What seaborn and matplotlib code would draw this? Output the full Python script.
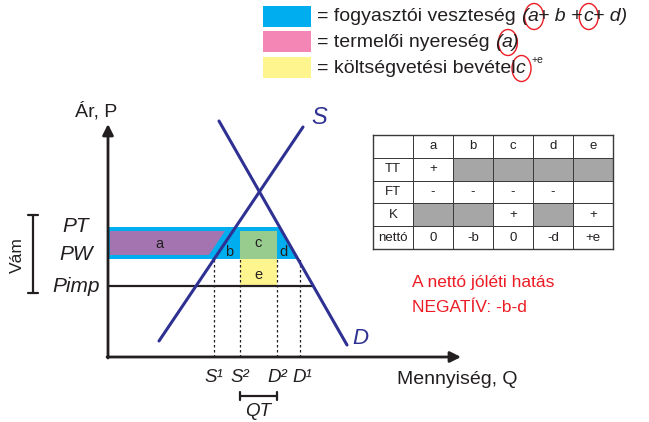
import numpy as np
import matplotlib
matplotlib.use('Agg')
import matplotlib.pyplot as plt
import seaborn as sns
from matplotlib.colors import ListedColormap
from matplotlib.patches import Ellipse

sns.set_style('white')
plt.rcParams['font.family'] = ['Liberation Sans', 'DejaVu Sans']

# --- data (units: quantity Q, price P) ---
supply_q = [5.1, 19.5]
supply_p = [1.6, 23.0]
demand_q = [11.1, 23.9]
demand_p = [23.6, 1.2]

PT = 13.0       # price with tariff (top of blue band)
PT_in = 12.6    # inner top of the coloured areas
PW = 9.8        # world price
Pimp = 7.1      # import price

S1, S2, D2, D1 = 10.6, 13.2, 16.9, 19.2

producer_q = [0.2, 10.1, 11.7, 0.2]
producer_p = [10.2, 10.2, 12.6, 12.6]

area_labels = ['a', 'b', 'c', 'd', 'e']
area_q = [5.1, 12.1, 15.0, 17.5, 15.0]
area_p = [11.3, 10.5, 11.4, 10.5, 8.2]

price_labels = ['PT', 'PW', 'Pimp']
price_label_p = [13.0, 10.3, 7.0]

table_cols = ['', 'a', 'b', 'c', 'd', 'e']
table_rows = ['TT', 'FT', 'K', 'nettó']
table_text = [['+', '', '', '', ''],
              ['-', '-', '-', '-', ''],
              ['', '', '+', '', '+'],
              ['0', '-b', '0', '-d', '+e']]
table_grey = [[0, 1, 1, 1, 1],
              [0, 0, 0, 0, 0],
              [1, 1, 0, 1, 0],
              [0, 0, 0, 0, 0]]

navy = '#2e3192'
ink = '#231f20'
blue = '#00aeef'
purple = '#a374b0'
pink = '#f386b5'
green = '#97cc8e'
yellow = '#fff58f'
red = '#ed1c24'

fig = plt.figure(figsize=(6.49, 4.22), dpi=100)
ax = fig.add_axes([0, 0, 1, 1])
ax.set_xlim(-10.8, 54.1)
ax.set_ylim(-6.5, 35.7)
ax.axis('off')


def demand_at(p):
    return np.interp(p, demand_p[::-1], demand_q[::-1])


# consumer loss band (blue)
ax.fill([0, 0, demand_at(PT), demand_at(PW)], [PW, PT, PT, PW], color=blue, lw=0)
# producer gain (purple)
ax.fill(producer_q, producer_p, color=purple, lw=0)
# tariff revenue c and e
ax.fill([S2, D2, D2, S2], [PW, PW, PT_in, PT_in], color=green, lw=0)
ax.fill([S2, D2, D2, S2], [Pimp, Pimp, PW, PW], color=yellow, lw=0)

# Pimp line
ax.plot([0, demand_at(Pimp)], [Pimp, Pimp], color=ink, lw=1.6)

# dashed verticals
for q in [S1, S2, D2, D1]:
    ax.plot([q, q], [0, PW], color=ink, lw=0.9, ls=(0, (2, 2)))

# supply and demand
sns.lineplot(x=supply_q, y=supply_p, ax=ax, color=navy, lw=2.2)
sns.lineplot(x=demand_q, y=demand_p, ax=ax, color=navy, lw=2.2)
ax.text(21.1, 23.9, 'S', color=navy, fontsize=17, style='italic', ha='center', va='center')
ax.text(25.2, 1.9, 'D', color=navy, fontsize=16, style='italic', ha='center', va='center')

for lab, q, p in zip(area_labels, area_q, area_p):
    ax.text(q, p, lab, fontsize=10.5, color=ink, ha='center', va='center')

# axes with arrows
arrow = dict(arrowstyle='-|>', lw=2, color=ink, mutation_scale=16, shrinkA=0, shrinkB=0)
ax.annotate('', xy=(0, 23.3), xytext=(0, -0.1), arrowprops=arrow)
ax.annotate('', xy=(35.3, 0), xytext=(-0.1, 0), arrowprops=arrow)
ax.text(-1.2, 24.6, 'Ár, P', fontsize=14, color=ink, ha='center', va='center')
ax.text(28.9, -2.3, 'Mennyiség, Q', fontsize=14, color=ink, ha='left', va='center')

# price labels
for lab, p in zip(price_labels, price_label_p):
    ax.text(-3.2, p, lab, fontsize=15, style='italic', color=ink, ha='center', va='center')

# Vám bracket
ax.plot([-7.5, -7.5], [6.4, 14.2], color=ink, lw=1.6)
ax.plot([-8.0, -7.0], [14.2, 14.2], color=ink, lw=1.6)
ax.plot([-8.0, -7.0], [6.4, 6.4], color=ink, lw=1.6)
ax.text(-9.1, 10.2, 'Vám', rotation=90, fontsize=12.5, color=ink, ha='center', va='center')

# quantity labels
for lab, q in zip(['S¹', 'S²', 'D²', 'D¹'], [S1, S2, D2, D1 + 0.2]):
    ax.text(q, -2.0, lab, fontsize=13.5, style='italic', color=ink, ha='center', va='center')

# QT bracket
ax.plot([S2, D2], [-3.9, -3.9], color=ink, lw=1.6)
ax.plot([S2, S2], [-3.5, -4.3], color=ink, lw=1.6)
ax.plot([D2, D2], [-3.5, -4.3], color=ink, lw=1.6)
ax.text((S2 + D2) / 2, -5.5, 'QT', fontsize=13.5, style='italic', color=ink, ha='center', va='center')

# red note
ax.text(30.4, 7.4, 'A nettó jóléti hatás', fontsize=12.5, color=red, ha='left', va='center')
ax.text(30.4, 5.0, 'NEGATÍV: -b-d', fontsize=12.5, color=red, ha='left', va='center')

# legend swatches
for col, top in zip([blue, pink, yellow], [35.1, 32.6, 30.0]):
    ax.fill([15.5, 20.3, 20.3, 15.5], [top - 2.1, top - 2.1, top, top], color=col, lw=0)

fs = 14
circled = []


def chain(prev, s, y, circ=False, **kw):
    t = ax.annotate(s, xy=(1, y), xycoords=(prev, 'data'), ha='left', va='baseline',
                    fontsize=kw.pop('fontsize', fs), color=ink, **kw)
    if circ:
        circled.append((t, y))
    return t


y1, y2, y3 = 33.6, 31.0, 28.4
t = ax.text(20.9, y1, '= fogyasztói veszteség ', fontsize=fs, color=ink, va='baseline')
t = chain(t, '(', y1, style='italic')
t = chain(t, 'a', y1, True, style='italic')
t = chain(t, '+ b +', y1, style='italic')
t = chain(t, 'c', y1, True, style='italic')
t = chain(t, '+ d)', y1, style='italic')

t = ax.text(20.9, y2, '= termelői nyereség ', fontsize=fs, color=ink, va='baseline')
t = chain(t, '(', y2, style='italic')
t = chain(t, 'a', y2, True, style='italic')
t = chain(t, ')', y2, style='italic')

t = ax.text(20.9, y3, '= költségvetési bevétel', fontsize=fs, color=ink, va='baseline')
t = chain(t, 'c', y3, True, style='italic')
ax.annotate('+e', xy=(1.6, y3 + 1.0), xycoords=(t, 'data'), ha='left', va='baseline',
            fontsize=7.5, color=ink)

# red rings round the letters in the legend
fig.canvas.draw()
inv = ax.transData.inverted()
for t, y in circled:
    bb = t.get_window_extent()
    xc = inv.transform(((bb.x0 + bb.x1) / 2, 0))[0] + 0.1
    ax.add_patch(Ellipse((xc, y + 0.45), 1.9, 2.6, fc='none', ec=red, lw=1))

# table drawn as heatmap
tax = ax.inset_axes([26.5, 10.8, 24.0, 11.4], transform=ax.transData)
grey = np.vstack([np.zeros(6), np.column_stack([np.zeros(4), table_grey])])
annot = np.array([table_cols] + [[r] + row for r, row in zip(table_rows, table_text)])
sns.heatmap(grey, annot=annot, fmt='', cmap=ListedColormap(['white', '#a6a6a6']),
            vmin=0, vmax=1, cbar=False, linewidths=0.7, linecolor='#3a3a3a',
            xticklabels=False, yticklabels=False, ax=tax,
            annot_kws={'fontsize': 9.5, 'color': ink})
for sp in tax.spines.values():
    sp.set_visible(True)
    sp.set_color('#3a3a3a')
    sp.set_linewidth(1.0)

fig.savefig('out.png', dpi=100)
